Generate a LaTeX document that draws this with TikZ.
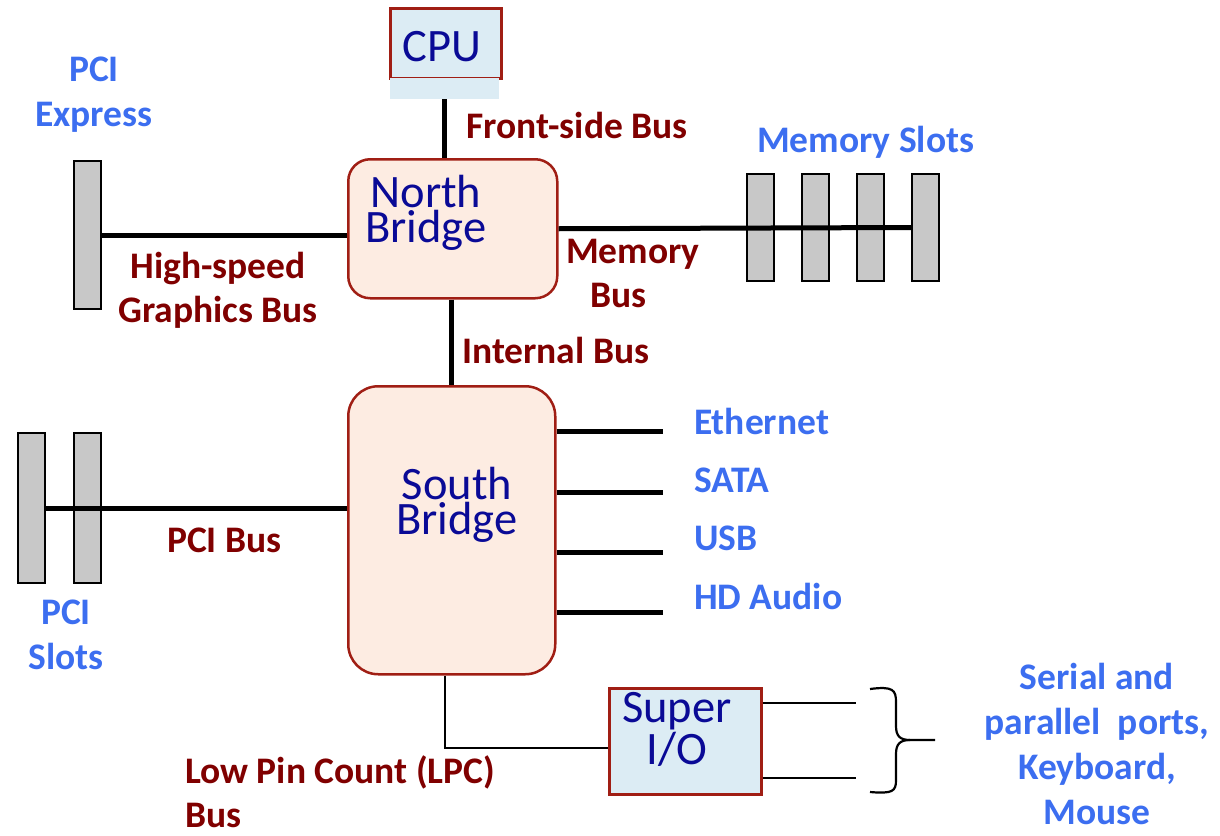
\documentclass[tikz,border=0pt]{standalone}
\usepackage{fontspec}
\setmainfont{Carlito}
\definecolor{busred}{RGB}{128,0,0}
\definecolor{lblue}{RGB}{60,110,240}
\definecolor{chiptext}{RGB}{10,10,150}
\definecolor{chipline}{RGB}{160,30,20}
\definecolor{peach}{RGB}{253,236,226}
\definecolor{paleblue}{RGB}{220,236,244}
\definecolor{slotgray}{RGB}{200,200,200}
\tikzset{
  bridge/.style={draw=chipline, line width=2.5pt, fill=peach, rounded corners=22pt, inner sep=0pt},
  chip/.style={draw=chipline, line width=2.5pt, fill=paleblue, inner sep=0pt},
  chiplabel/.style={text=chiptext, font=\fontsize{46.5}{35}\selectfont, align=center, inner sep=0pt},
  slot/.style={draw=black, line width=2pt, fill=slotgray, inner sep=0pt, minimum width=27pt},
  bus/.style={line width=5pt, black},
  thinbus/.style={line width=2.2pt, black},
  busname/.style={text=busred, font=\fontsize{37.5}{44}\selectfont\bfseries, inner sep=0pt},
  portname/.style={text=lblue, font=\fontsize{37.5}{45}\selectfont\bfseries, inner sep=0pt},
}
\begin{document}
\begin{tikzpicture}[x=1pt, y=-1pt]
\useasboundingbox (0,0) rectangle (1220,835);

% chips
\node[chip, minimum width=111pt, minimum height=70pt, anchor=north west] (cpu) at (389,7) {};
\node[fill=paleblue, inner sep=0pt, minimum width=109pt, minimum height=21pt, anchor=north west] (cpubase) at (390,78) {};
\node[chiplabel] (cputext) at (442,47) {CPU};
\node[bridge, minimum width=209pt, minimum height=139pt, anchor=north west] (nb) at (347,158) {};
\node[chiplabel] (nbtext) at (426,213) {North\\Bridge};
\node[bridge, rounded corners=30pt, minimum width=207pt, minimum height=288pt, anchor=north west] (sb) at (347,385) {};
\node[chiplabel] (sbtext) at (457,505) {South\\Bridge};
\node[chip, minimum width=152pt, minimum height=106pt, anchor=north west] (sio) at (608,687) {};
\node[chiplabel, font=\fontsize{46.5}{42}\selectfont] (siotext) at (677,729) {Super\\I/O};

% expansion and memory slots
\node[slot, minimum height=148pt, anchor=north west] (pcie) at (73,160) {};
\node[slot, minimum height=107pt, anchor=north west] (ms1) at (746,173) {};
\node[slot, minimum height=107pt, anchor=north west] (ms2) at (801,173) {};
\node[slot, minimum height=107pt, anchor=north west] (ms3) at (856,173) {};
\node[slot, minimum height=107pt, anchor=north west] (ms4) at (911,173) {};
\node[slot, minimum height=150pt, anchor=north west] (ps1) at (17,432) {};
\node[slot, minimum height=150pt, anchor=north west] (ps2) at (73,432) {};

% bus ends
\coordinate (eth) at (663,431);
\coordinate (sata) at (663,492);
\coordinate (usb) at (663,552);
\coordinate (hda) at (663,612);
\coordinate (ser) at (856,703);
\coordinate (kbd) at (856,778);

% buses
\draw[bus] (cpubase.south) -- (cpubase.south |- nb.north);
\draw[bus] (pcie.east) -- (pcie.east -| nb.west);
\draw[bus] (nb.east) -- (ms4.west);
\draw[bus] (sb.north |- nb.south) -- (sb.north);
\draw[bus] (ps1.east) -- (ps1.east -| sb.west);
\foreach \p in {eth,sata,usb,hda}
  \draw[bus] (sb.east |- \p) -- (\p);
\draw[thinbus] ([xshift=-7pt]sb.south) |- ([yshift=-7pt]sio.west);
\draw[thinbus] (sio.east |- ser) -- (ser);
\draw[thinbus] (sio.east |- kbd) -- (kbd);

% brace grouping the legacy ports
\draw[line width=2.2pt] (870,689) .. controls (893,686) and (896,690) .. (896,702) -- (896,726)
  .. controls (896,736) and (900,740) .. (910,740) -- (935,740);
\draw[line width=2.2pt] (910,740) .. controls (900,740) and (896,744) .. (896,754) -- (896,780)
  .. controls (896,791) and (893,794) .. (870,792);

% bus names
\node[busname, anchor=west] (fsb) at (466,125) {Front-side Bus};
\node[busname, align=center] (hsg) at (218,290) {High-speed\\Graphics Bus};
\node[busname, align=left, anchor=west] (mbus) at (566,273) {Memory\\\hspace*{24pt}Bus};
\node[busname, anchor=west] (ibus) at (462,350) {Internal Bus};
\node[busname, anchor=west] (pcibus) at (167,540) {PCI Bus};
\node[busname, align=left, anchor=west] (lpc) at (185,792) {Low Pin Count (LPC)\\Bus};

% device names
\node[portname, align=center] (pcielbl) at (94,95) {PCI\\Express};
\node[portname, anchor=west] (memlbl) at (757,142) {Memory Slots};
\node[portname, anchor=west] (ethlbl) at (694,421) {Ethernet};
\node[portname, anchor=west] (satalbl) at (694,480) {SATA};
\node[portname, anchor=west] (usblbl) at (694,538) {USB};
\node[portname, anchor=west] (hdalbl) at (694,596) {HD Audio};
\node[portname, align=center] (pcislbl) at (66,635) {PCI\\Slots};
\node[portname, align=center] (legacylbl) at (1097,744) {Serial and\\parallel\ \ ports,\\Keyboard,\\Mouse};
\end{tikzpicture}
\end{document}
